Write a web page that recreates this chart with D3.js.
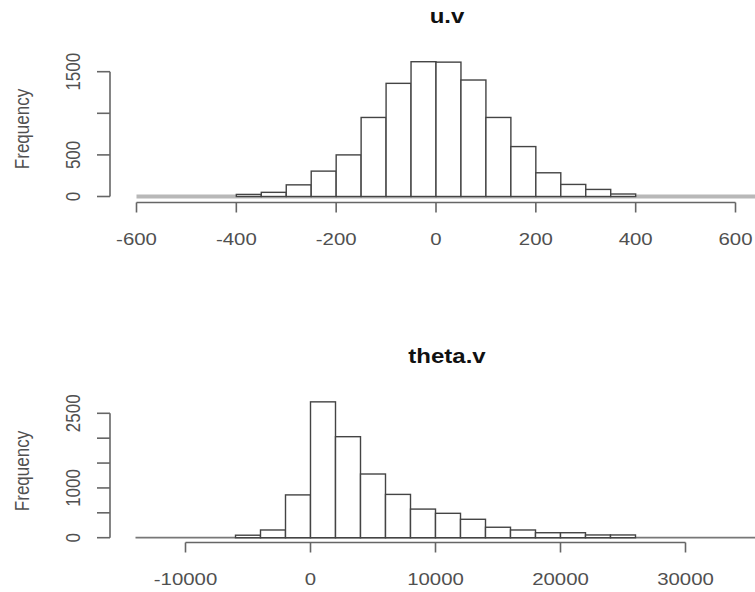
<!DOCTYPE html>
<html>
<head>
<meta charset="utf-8">
<script src="https://cdn.jsdelivr.net/npm/d3@7"></script>
<style>
  html, body { margin: 0; padding: 0; background: #fff; }
  svg { display: block; }
  text { font-family: "Liberation Sans", Arial, sans-serif; }
</style>
</head>
<body>
<script>
// u.v histogram: bin edges every 50, counts per bin
const uvBreaks = [-400, -350, -300, -250, -200, -150, -100, -50, 0, 50, 100, 150, 200, 250, 300, 350, 400];
const uvCounts = [25, 50, 140, 305, 500, 950, 1360, 1620, 1615, 1400, 950, 600, 285, 145, 85, 30];
const uvXTicks = [-600, -400, -200, 0, 200, 400, 600];
const uvYTicks = [0, 500, 1000, 1500];
const uvYLabels = [0, 500, 1500];          // 1000 dropped to avoid overlap
const uvRange = [-600, 650];               // extent of the empty bins along the baseline

// theta.v histogram: bin edges every 2000, counts per bin
const thBreaks = [-6000, -4000, -2000, 0, 2000, 4000, 6000, 8000, 10000, 12000, 14000, 16000, 18000, 20000, 22000, 24000, 26000];
const thCounts = [50, 155, 860, 2730, 2030, 1280, 870, 575, 490, 370, 210, 155, 100, 100, 55, 55];
const thXTicks = [-10000, 0, 10000, 20000, 30000];
const thYTicks = [0, 500, 1000, 1500, 2000, 2500];
const thYLabels = [0, 1000, 2500];
const thRange = [-14000, 36000];

const W = 755, H = 592;
const SX = 1.2;          // horizontal stretch of the glyphs
const FS = 17;           // tick / axis label size
const ink = "#444", axisInk = "#666", textInk = "#505050";

const svg = d3.select("body").append("svg").attr("width", W).attr("height", H);

function panel(cfg) {
  const g = svg.append("g");
  const x = d3.scaleLinear().domain(cfg.xDomain).range(cfg.xRange);
  const y = d3.scaleLinear().domain(cfg.yDomain).range(cfg.yRange);
  const base = y(0);

  // title
  g.append("text")
    .attr("transform", `translate(${cfg.titleX},${cfg.titleY}) scale(${SX},1)`)
    .attr("text-anchor", "middle")
    .attr("font-weight", "bold")
    .attr("font-size", 20)
    .attr("fill", "#111")
    .text(cfg.title);

  // baseline formed by the empty bins
  g.append("line")
    .attr("x1", x(cfg.range[0])).attr("x2", x(cfg.range[1]))
    .attr("y1", base).attr("y2", base)
    .attr("stroke", cfg.baseColor).attr("stroke-width", cfg.baseWidth);

  // bars
  const bins = cfg.counts.map((c, i) => ({ x0: cfg.breaks[i], x1: cfg.breaks[i + 1], n: c }));
  g.selectAll("rect.bar").data(bins).join("rect")
    .attr("class", "bar")
    .attr("x", d => x(d.x0))
    .attr("width", d => x(d.x1) - x(d.x0))
    .attr("y", d => y(d.n))
    .attr("height", d => base - y(d.n))
    .attr("fill", "#fff")
    .attr("stroke", ink)
    .attr("stroke-width", 1.4);

  // x axis
  const xa = g.append("g").attr("transform", `translate(0,${cfg.xAxisY})`);
  const xt = cfg.xTicks;
  xa.append("line")
    .attr("x1", x(xt[0])).attr("x2", x(xt[xt.length - 1]))
    .attr("stroke", axisInk).attr("stroke-width", 1.6);
  xa.selectAll("line.tick").data(xt).join("line")
    .attr("class", "tick")
    .attr("x1", d => x(d)).attr("x2", d => x(d))
    .attr("y1", 0).attr("y2", 10)
    .attr("stroke", axisInk).attr("stroke-width", 1.6);
  xa.selectAll("text").data(xt).join("text")
    .attr("transform", d => `translate(${x(d)},${cfg.xLabelDy}) scale(${SX},1)`)
    .attr("text-anchor", "middle")
    .attr("font-size", FS)
    .attr("fill", textInk)
    .text(d => d);

  // y axis
  const ya = g.append("g").attr("transform", `translate(${cfg.yAxisX},0)`);
  const yt = cfg.yTicks;
  ya.append("line")
    .attr("y1", y(yt[0])).attr("y2", y(yt[yt.length - 1]))
    .attr("stroke", axisInk).attr("stroke-width", 1.6);
  ya.selectAll("line.tick").data(yt).join("line")
    .attr("class", "tick")
    .attr("y1", d => y(d)).attr("y2", d => y(d))
    .attr("x1", 0).attr("x2", -13)
    .attr("stroke", axisInk).attr("stroke-width", 1.6);
  ya.selectAll("text").data(cfg.yLabels).join("text")
    .attr("transform", d => `translate(-30,${y(d)}) scale(${SX},1) rotate(-90)`)
    .attr("text-anchor", "middle")
    .attr("font-size", FS)
    .attr("fill", textInk)
    .text(d => d);

  // axis title, centred on the plot region
  g.append("text")
    .attr("transform", `translate(29,${cfg.yTitleY}) scale(${SX},1) rotate(-90)`)
    .attr("text-anchor", "middle")
    .attr("font-size", FS)
    .attr("fill", textInk)
    .text("Frequency");
}

panel({
  title: "u.v", titleX: 447, titleY: 23,
  breaks: uvBreaks, counts: uvCounts, range: uvRange,
  xDomain: [-600, 600], xRange: [136.5, 735.5],
  yDomain: [0, 1500], yRange: [196.5, 71.7],
  xTicks: uvXTicks, yTicks: uvYTicks, yLabels: uvYLabels,
  xAxisY: 202.5, xLabelDy: 42, yAxisX: 110, yTitleY: 129,
  baseColor: "#b8b8b8", baseWidth: 4
});

panel({
  title: "theta.v", titleX: 447, titleY: 363,
  breaks: thBreaks, counts: thCounts, range: thRange,
  xDomain: [-10000, 30000], xRange: [185.5, 685.5],
  yDomain: [0, 2500], yRange: [537.7, 413.3],
  xTicks: thXTicks, yTicks: thYTicks, yLabels: thYLabels,
  xAxisY: 542.5, xLabelDy: 42, yAxisX: 110, yTitleY: 471,
  baseColor: "#777", baseWidth: 1.8
});
</script>
</body>
</html>
